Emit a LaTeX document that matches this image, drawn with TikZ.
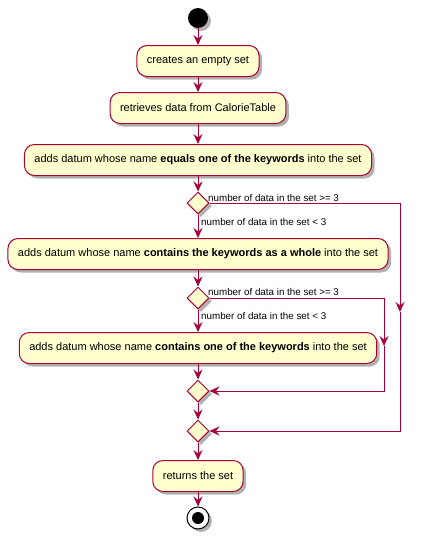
\documentclass[tikz,border=0pt]{standalone}
\usepackage{fontspec}
\setmainfont{Liberation Sans}
\usetikzlibrary{shapes.geometric,shadows,arrows.meta}
\definecolor{umlred}{HTML}{A80036}
\definecolor{umlfill}{HTML}{FEFECE}

\begin{document}
\begin{tikzpicture}[
    x=1pt, y=-1pt,
    shade/.style={drop shadow={shadow xshift=3pt, shadow yshift=-3pt, opacity=0.3, fill=black}},
    action/.style={rectangle, rounded corners=10pt, draw=umlred, fill=umlfill, line width=1pt,
        minimum height=31pt, inner xsep=10pt, font=\fontsize{11}{13}\selectfont, shade},
    choice/.style={diamond, draw=umlred, fill=umlfill, line width=1pt, minimum width=22pt,
        minimum height=22pt, inner sep=0pt, aspect=1, shade},
    start node/.style={circle, fill=black, minimum size=20pt, inner sep=0pt, shade},
    stop node/.style={circle, draw=black, fill=white, line width=1pt, minimum size=22pt, inner sep=0pt, shade},
    guard/.style={anchor=west, inner sep=1pt, font=\fontsize{9.8}{11}\selectfont},
    flow/.style={draw=umlred, line width=1pt, -{Stealth[length=10pt, width=9pt, inset=3.5pt]}}
]
\useasboundingbox (0,0) rectangle (423,538);

% Start and actions
\node[start node] (start) at (198,18) {};
\node[action] (A-1) at (198,61) {creates an empty set};
\node[action] (A-2) at (198,108) {retrieves data from CalorieTable};
\node[action] (A-3) at (198,160) {adds datum whose name \textbf{equals one of the keywords} into the set};

% First check
\node[choice] (D-1) at (198,203) {};
\node[guard] (G-1) at (207,198) {number of data in the set >= 3};
\node[guard] (G-2) at (200,222) {number of data in the set < 3};
\node[action] (A-4) at (198,254) {adds datum whose name \textbf{contains the keywords as a whole} into the set};

% Second check
\node[choice] (D-2) at (198,298) {};
\node[guard] (G-3) at (207,292) {number of data in the set >= 3};
\node[guard] (G-4) at (200,316) {number of data in the set < 3};
\node[action] (A-5) at (198,348) {adds datum whose name \textbf{contains one of the keywords} into the set};

% Merges and end
\node[choice] (M-1) at (198,391) {};
\node[choice] (M-2) at (198,431) {};
\node[action] (A-6) at (198,476) {returns the set};
\node[stop node] (stop) at (198,518) {};
\node[circle, fill=black, minimum size=12pt, inner sep=0pt] (stop-in) at (stop) {};

% Bends of the skip branches
\coordinate (B-1) at (400,312);
\coordinate (B-2) at (384,346);

% Main flow
\draw[flow] (start) -- (A-1);
\draw[flow] (A-1) -- (A-2);
\draw[flow] (A-2) -- (A-3);
\draw[flow] (A-3) -- (D-1);
\draw[flow] (D-1) -- (A-4);
\draw[flow] (A-4) -- (D-2);
\draw[flow] (D-2) -- (A-5);
\draw[flow] (A-5) -- (M-1);
\draw[flow] (M-1) -- (M-2);
\draw[flow] (M-2) -- (A-6);
\draw[flow] (A-6) -- (stop);

% Skip branches
\draw[flow] (D-1.east) -| (B-1);
\draw[flow] (B-1) |- (M-2.east);
\draw[flow] (D-2.east) -| (B-2);
\draw[flow] (B-2) |- (M-1.east);

\end{tikzpicture}
\end{document}
